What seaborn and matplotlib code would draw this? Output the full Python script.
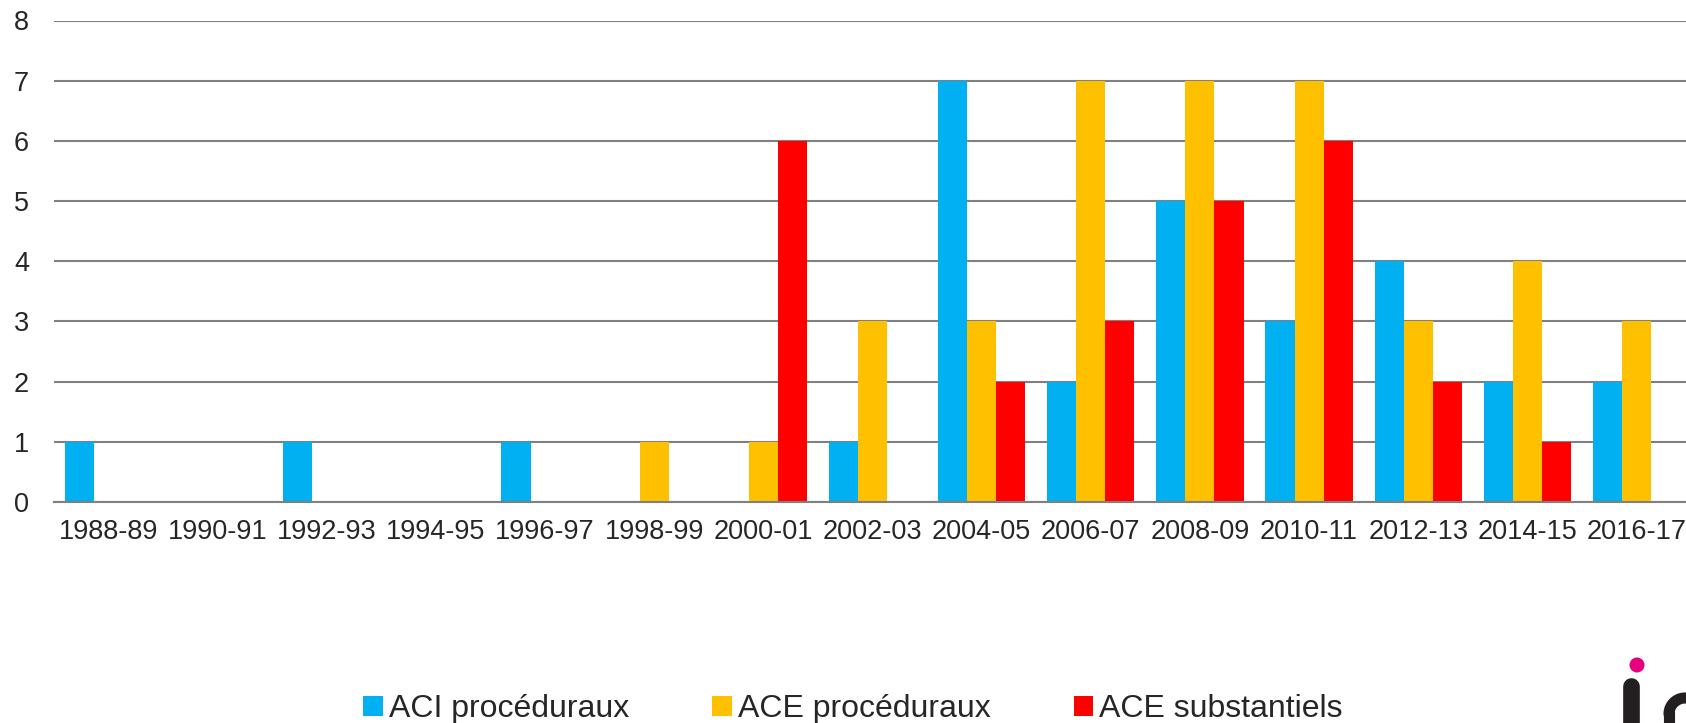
import numpy as np
import pandas as pd
import matplotlib.pyplot as plt
from matplotlib.patches import Ellipse
import seaborn as sns

periods = ["1988-89", "1990-91", "1992-93", "1994-95", "1996-97", "1998-99", "2000-01",
           "2002-03", "2004-05", "2006-07", "2008-09", "2010-11", "2012-13", "2014-15", "2016-17"]
aci_proceduraux = [1, 0, 1, 0, 1, 0, 0, 1, 7, 2, 5, 3, 4, 2, 2]
ace_proceduraux = [0, 0, 0, 0, 0, 1, 1, 3, 3, 7, 7, 7, 3, 4, 3]
ace_substantiels = [0, 0, 0, 0, 0, 0, 6, 0, 2, 3, 5, 6, 2, 1, 0]
series = ["ACI procéduraux", "ACE procéduraux", "ACE substantiels"]
colors = ["#00B0F0", "#FFC000", "#FF0000"]

df = pd.DataFrame({"periode": periods * 3,
                   "serie": [series[0]] * 15 + [series[1]] * 15 + [series[2]] * 15,
                   "n": aci_proceduraux + ace_proceduraux + ace_substantiels})

sns.set_style("white")
plt.rcParams["font.family"] = ["Liberation Sans", "DejaVu Sans"]

fig = plt.figure(figsize=(16.86, 7.23), dpi=100)
ax = fig.add_axes([54 / 1686, 1 - 502 / 723, 1 - 54 / 1686 + 0.003, (502 - 20.5) / 723])

sns.barplot(data=df, x="periode", y="n", hue="serie", palette=colors, width=0.8,
            linewidth=0, saturation=1, ax=ax)

ax.set_ylim(0, 8)
ax.set_xlim(-0.5, 14.5)
ax.set_yticks(range(0, 9))
ax.yaxis.grid(True, color="#808080", linewidth=1.5)
ax.set_axisbelow(True)
for s in ["top", "right", "left"]:
    ax.spines[s].set_visible(False)
ax.spines["bottom"].set_color("#808080")
ax.spines["bottom"].set_linewidth(1.5)
ax.tick_params(axis="x", length=0, pad=12, labelsize=19.5)
ax.tick_params(axis="y", length=0, pad=18, labelsize=19.5)
ax.set_xlabel("")
ax.set_ylabel("")

sns.move_legend(ax, "center", bbox_to_anchor=(0.506, 0.019), bbox_transform=fig.transFigure,
                ncol=3, frameon=False, title=None, fontsize=23, handlelength=0.6,
                handleheight=0.6, handletextpad=0.2, columnspacing=2.6)

# bout du logo, coupé au bord droit
lax = fig.add_axes([1600 / 1686, 0, 86 / 1686, 80 / 723])
lax.set_xlim(1600, 1686)
lax.set_ylim(723, 643)
lax.axis("off")
lax.add_patch(Ellipse((1637, 665), 15, 15, color="#E6007E", linewidth=0))
lax.plot([1631, 1631], [723, 686], color="#231F20", linewidth=12, solid_capstyle="round")
t = np.linspace(np.pi, 1.6 * np.pi, 20)
lax.plot(1685 + 16 * np.cos(t), 714 + 16 * np.sin(t), color="#231F20", linewidth=8)
lax.plot([1669, 1669], [723, 712], color="#231F20", linewidth=8)

fig.savefig("out.png", dpi=100)
